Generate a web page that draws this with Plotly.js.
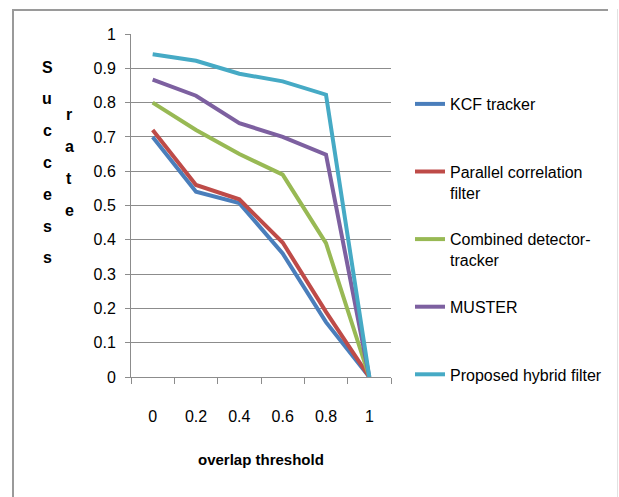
<!DOCTYPE html>
<html>
<head>
<meta charset="utf-8">
<script src="https://cdn.plot.ly/plotly-3.0.1.min.js"></script>
<style>
  html, body { margin: 0; padding: 0; background: #fff; }
  #wrap { position: relative; width: 619px; height: 497px; }
  #chart { width: 619px; height: 497px; }
  .fr { position: absolute; pointer-events: none; }
</style>
</head>
<body>
<div id="wrap">
  <div id="chart"></div>
  <div class="fr" style="left:12px; top:9px; width:596px; height:2px; background:#9a9a9a;"></div>
  <div class="fr" style="left:12px; top:9px; width:2px; height:488px; background:#9a9a9a;"></div>
  <div class="fr" style="left:617px; top:9px; width:1px; height:488px; background:#e2e2e2;"></div>
</div>
<script>
// ---- data ----
const thresholds = ['0', '0.2', '0.4', '0.6', '0.8', '1'];
const kcf      = [0.70, 0.54, 0.507, 0.36, 0.16, 0];
const parallel = [0.72, 0.56, 0.518, 0.392, 0.19, 0];
const combined = [0.80, 0.72, 0.65, 0.59, 0.39, 0];
const muster   = [0.867, 0.82, 0.74, 0.70, 0.648, 0];
const proposed = [0.941, 0.922, 0.884, 0.862, 0.823, 0];
const seriesNames = ['KCF tracker', 'Parallel correlation<br>filter', 'Combined detector-<br>tracker', 'MUSTER', 'Proposed hybrid filter'];
const seriesColors = ['#4a7ebb', '#be4b48', '#98b954', '#7d60a0', '#46aac5'];
const yTicks = [0, 0.1, 0.2, 0.3, 0.4, 0.5, 0.6, 0.7, 0.8, 0.9, 1];
const yTickText = ['0', '0.1', '0.2', '0.3', '0.4', '0.5', '0.6', '0.7', '0.8', '0.9', '1'];
const yTitleWord1 = 'Success';
const yTitleWord2 = 'rate';
const xTitle = 'overlap threshold';

const FONT = '"Liberation Sans", Arial, sans-serif';
const W = 619, H = 497;
const M = { l: 131, r: 228, t: 34, b: 120 };
const pw = W - M.l - M.r, ph = H - M.t - M.b;
const px2x = (px) => (px - M.l) / pw;
const px2y = (py) => (H - M.b - py) / ph;

const allSeries = [kcf, parallel, combined, muster, proposed];
const traces = allSeries.map((vals, i) => {
  let name = seriesNames[i];
  if (name.indexOf('<br>') < 0) name = name + '<br> ';
  return {
    type: 'scatter', mode: 'lines',
    x: thresholds, y: vals,
    name: name,
    legendgroup: 'g' + i,
    line: { color: seriesColors[i], width: 4 },
    hoverinfo: 'x+y'
  };
});

const annotations = [];
for (let k = 0; k < yTitleWord1.length; k++) {
  annotations.push({
    xref: 'paper', yref: 'paper', x: px2x(47), y: px2y(67 + k * 31.8),
    text: yTitleWord1[k], showarrow: false, xanchor: 'center', yanchor: 'middle',
    font: { family: FONT, size: 16, color: '#000', weight: 'bold' }
  });
}
for (let k = 0; k < yTitleWord2.length; k++) {
  annotations.push({
    xref: 'paper', yref: 'paper', x: px2x(69), y: px2y(115 + k * 31.7),
    text: yTitleWord2[k], showarrow: false, xanchor: 'center', yanchor: 'middle',
    font: { family: FONT, size: 16, color: '#000', weight: 'bold' }
  });
}
annotations.push({
  xref: 'paper', yref: 'paper', x: px2x(261), y: px2y(459),
  text: xTitle, showarrow: false, xanchor: 'center', yanchor: 'middle',
  font: { family: FONT, size: 15, color: '#000', weight: 'bold' }
});

const layout = {
  width: W, height: H,
  margin: M,
  paper_bgcolor: '#ffffff', plot_bgcolor: '#ffffff',
  showlegend: true,
  legend: {
    xref: 'container', yref: 'container',
    x: 410 / W, xanchor: 'left',
    y: 1 - 87 / H, yanchor: 'top',
    maxheight: 480,
    font: { family: FONT, size: 16, color: '#000' },
    valign: 'top',
    tracegroupgap: 23,
    bgcolor: 'rgba(0,0,0,0)'
  },
  xaxis: {
    type: 'category',
    range: [-0.5, 5.5],
    showgrid: false,
    zeroline: false,
    showline: true, linecolor: '#8c8c8c', linewidth: 1,
    ticks: 'outside', tickson: 'boundaries', ticklen: 6, tickcolor: '#8c8c8c', tickwidth: 1,
    ticklabelstandoff: 25,
    tickfont: { family: FONT, size: 16, color: '#000' },
    fixedrange: true
  },
  yaxis: {
    range: [0, 1],
    tickmode: 'array', tickvals: yTicks, ticktext: yTickText,
    showgrid: true, gridcolor: '#8c8c8c', gridwidth: 1,
    zeroline: false,
    showline: true, linecolor: '#8c8c8c', linewidth: 1,
    ticks: 'outside', ticklen: 5, tickcolor: '#8c8c8c', tickwidth: 1,
    ticklabelstandoff: 6,
    tickfont: { family: FONT, size: 16, color: '#000' },
    fixedrange: true
  },
  annotations: annotations
};

Plotly.newPlot('chart', traces, layout, { displayModeBar: false, staticPlot: true });
</script>
</body>
</html>
